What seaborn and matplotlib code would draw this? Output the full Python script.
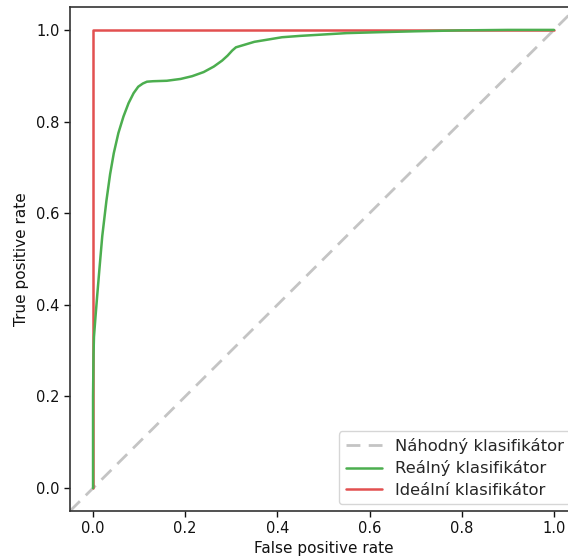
import matplotlib
matplotlib.use("Agg")
import matplotlib.pyplot as plt
import seaborn as sns
import pandas as pd

# ROC curve of the real classifier (false positive rate, true positive rate)
real_fpr = [0.0, 0.0, 0.001, 0.002, 0.005, 0.009, 0.014, 0.020, 0.029, 0.037,
            0.045, 0.055, 0.066, 0.077, 0.088, 0.098, 0.108, 0.117, 0.130,
            0.160, 0.190, 0.215, 0.240, 0.262, 0.280, 0.292, 0.302, 0.310,
            0.330, 0.350, 0.380, 0.410, 0.450, 0.500, 0.550, 0.620, 0.700,
            0.800, 0.900, 1.000]
real_tpr = [0.0, 0.200, 0.290, 0.330, 0.370, 0.420, 0.480, 0.550, 0.627, 0.685,
            0.731, 0.775, 0.811, 0.840, 0.862, 0.876, 0.883, 0.887, 0.888,
            0.889, 0.893, 0.899, 0.908, 0.920, 0.933, 0.944, 0.955, 0.962,
            0.968, 0.974, 0.979, 0.984, 0.987, 0.990, 0.993, 0.995, 0.997,
            0.999, 1.000, 1.000]

# Ideal classifier
ideal_fpr = [0.0, 0.0, 1.0]
ideal_tpr = [0.0, 1.0, 1.0]

# Random classifier (diagonal)
random_fpr = [-0.05, 1.05]
random_tpr = [-0.05, 1.05]

labels = ["Náhodný klasifikátor", "Reálný klasifikátor", "Ideální klasifikátor"]
x_ticks = [0.0, 0.2, 0.4, 0.6, 0.8, 1.0]
y_ticks = [0.0, 0.2, 0.4, 0.6, 0.8, 1.0]

sns.set_style("ticks")
plt.rcParams["font.family"] = ["DejaVu Sans"]

fig = plt.figure(figsize=(5.68, 5.59), dpi=100)
ax = fig.add_axes([70 / 568, 48 / 559, 507 / 568, 504 / 559])

df_random = pd.DataFrame({"fpr": random_fpr, "tpr": random_tpr})
df_real = pd.DataFrame({"fpr": real_fpr, "tpr": real_tpr})
df_ideal = pd.DataFrame({"fpr": ideal_fpr, "tpr": ideal_tpr})

sns.lineplot(data=df_random, x="fpr", y="tpr", ax=ax, color="#c4c4c4",
             linestyle=(0, (5, 3)), linewidth=2.0, sort=False, estimator=None,
             label=labels[0])
sns.lineplot(data=df_ideal, x="fpr", y="tpr", ax=ax, color="#e25050",
             linewidth=1.8, sort=False, estimator=None, label=labels[2])
sns.lineplot(data=df_real, x="fpr", y="tpr", ax=ax, color="#4cae4f",
             linewidth=1.8, sort=False, estimator=None, label=labels[1])

ax.set_xlim(-0.05, 1.05)
ax.set_ylim(-0.05, 1.05)
ax.set_xticks(x_ticks)
ax.set_yticks(y_ticks)
ax.set_xlabel("False positive rate", fontsize=11, color="#111111", labelpad=3)
ax.set_ylabel("True positive rate", fontsize=11, color="#111111", labelpad=5)
ax.tick_params(labelsize=10.5, colors="#111111", length=4, width=1)
for side in ["top", "bottom", "left"]:
    ax.spines[side].set_visible(True)
    ax.spines[side].set_color("#333333")
    ax.spines[side].set_linewidth(1.2)
ax.spines["right"].set_visible(False)

handles, hl = ax.get_legend_handles_labels()
order = [hl.index(l) for l in labels]
ax.legend([handles[i] for i in order], [hl[i] for i in order],
          loc="lower right", fontsize=11.8, frameon=True, handlelength=2.2,
          labelspacing=0.4, borderaxespad=0.4)

fig.savefig("out.png", dpi=100)
